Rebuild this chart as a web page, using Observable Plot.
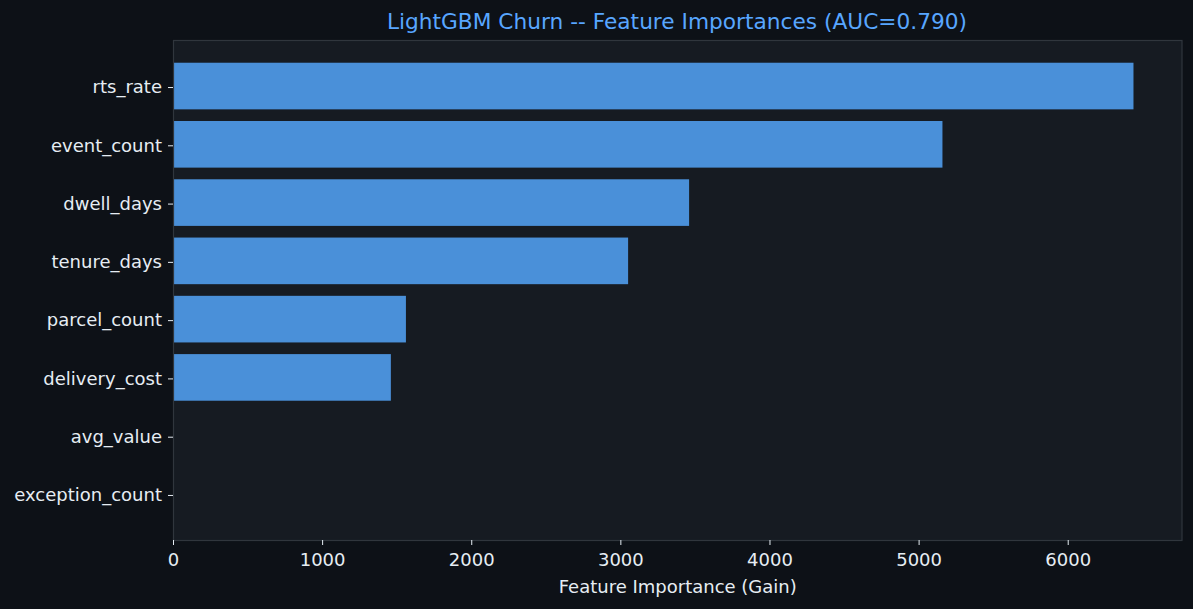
<!DOCTYPE html>
<html>
<head>
<meta charset="utf-8">
<script src="https://cdn.jsdelivr.net/npm/d3@7"></script>
<script src="https://cdn.jsdelivr.net/npm/@observablehq/plot@0.6"></script>
<style>
  html, body { margin: 0; padding: 0; background: #0d1117; }
  #wrap { width: 1193px; height: 609px; position: relative; background: #0d1117; font-family: "DejaVu Sans", sans-serif; }
  #title { position: absolute; left: 173px; width: 1008px; top: 9px; text-align: center; color: #58a6ff; font-size: 21.7px; line-height: 26px; white-space: nowrap; }
  #chart { position: absolute; left: 0; top: 30px; }
</style>
</head>
<body>
<div id="wrap">
  <div id="title">LightGBM Churn -- Feature Importances (AUC=0.790)</div>
  <div id="chart"></div>
</div>
<script>
const features = ["rts_rate", "event_count", "dwell_days", "tenure_days", "parcel_count", "delivery_cost", "avg_value", "exception_count"];
const importances = [6441, 5160, 3461, 3052, 1562, 1461, 0, 0];
const xTicks = [0, 1000, 2000, 3000, 4000, 5000, 6000];
const xLabel = "Feature Importance (Gain)";

const data = features.map((f, i) => ({feature: f, gain: importances[i]}));
const xMax = d3.max(importances) * 1.05;

const plot = Plot.plot({
  width: 1193,
  height: 579,
  marginTop: 10,
  marginBottom: 69,
  marginLeft: 173,
  marginRight: 11.5,
  style: {background: "transparent", color: "#e6edf3", fontFamily: "'DejaVu Sans', sans-serif", fontSize: "18px"},
  x: {domain: [0, xMax]},
  y: {domain: features, padding: 0.2, paddingOuter: 0.39, round: false},
  marks: [
    Plot.frame({fill: "#161b22", stroke: null}),
    Plot.barX(data, {x: "gain", y: "feature", fill: "#4a90d9"}),
    Plot.frame({stroke: "#30363d", strokeWidth: 1.2}),
    Plot.axisX({ticks: xTicks, tickFormat: d => String(d), tickSize: 5, tickPadding: 8, fontSize: 18, label: null}),
    Plot.axisY({tickSize: 5, tickPadding: 6.5, fontSize: 18, label: null, dy: 1}),
    Plot.text([xLabel], {text: d => d, frameAnchor: "bottom", lineAnchor: "middle", dy: 46.5, fontSize: 18, fill: "#e6edf3"})
  ]
});
document.getElementById("chart").appendChild(plot);
</script>
</body>
</html>
